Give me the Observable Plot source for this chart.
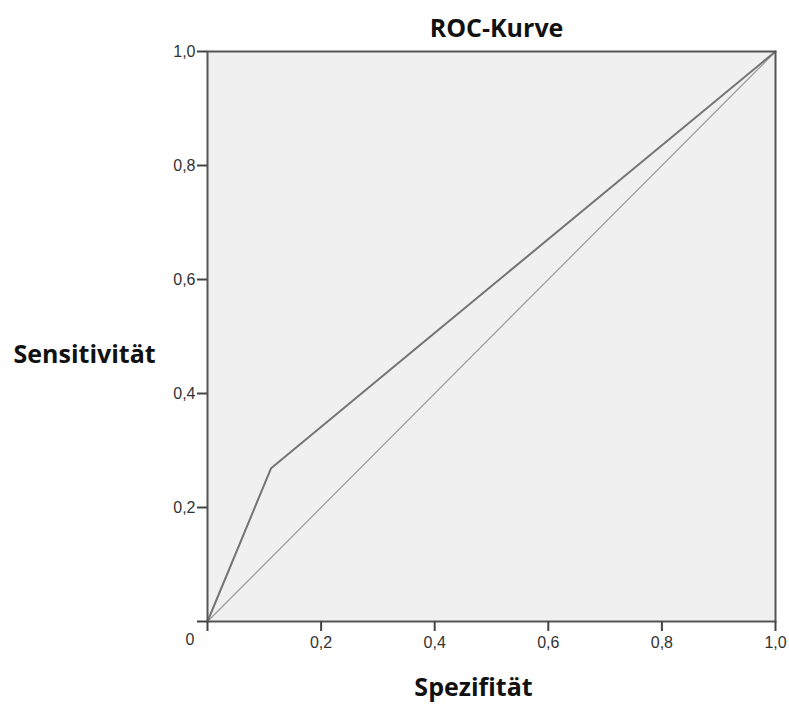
<!DOCTYPE html>
<html>
<head>
<meta charset="utf-8">
<script src="https://cdn.jsdelivr.net/npm/d3@7"></script>
<script src="https://cdn.jsdelivr.net/npm/@observablehq/plot@0.6"></script>
<style>
  html, body { margin: 0; padding: 0; background: #fff; }
</style>
</head>
<body>
<div id="chart"></div>
<script>
const title = "ROC-Kurve";
const xLabel = "Spezifität";
const yLabel = "Sensitivität";
const rocX = [0, 0.112, 0.345, 1];
const rocY = [0, 0.269, 0.461, 1];
const refX = [0, 1];
const refY = [0, 1];
const tickValues = [0, 0.2, 0.4, 0.6, 0.8, 1.0];

const roc = rocX.map((x, i) => ({x, y: rocY[i]}));
const ref = refX.map((x, i) => ({x, y: refY[i]}));
const fmt = d => d === 0 ? "" : d.toFixed(1).replace(".", ",");

const chart = Plot.plot({
  width: 789,
  height: 704,
  marginLeft: 207,
  marginRight: 14,
  marginTop: 51,
  marginBottom: 83,
  style: {fontFamily: "'Liberation Sans', Arial, sans-serif", fontSize: "16px", color: "#333", background: "#fff"},
  x: {domain: [0, 1]},
  y: {domain: [0, 1]},
  marks: [
    Plot.frame({fill: "#f0f0f0", stroke: null}),
    Plot.line(ref, {x: "x", y: "y", stroke: "#9a9a9a", strokeWidth: 1.2}),
    Plot.line(roc, {x: "x", y: "y", stroke: "#747474", strokeWidth: 2}),
    Plot.frame({stroke: "#555", strokeWidth: 2}),
    Plot.axisX({ticks: tickValues, tickFormat: fmt, tickSize: 10, tickPadding: 5, stroke: "#444", strokeWidth: 2, label: null, fontSize: 16}),
    Plot.axisY({ticks: tickValues, tickFormat: fmt, tickSize: 10, tickPadding: 2, stroke: "#444", strokeWidth: 2, label: null, fontSize: 16}),
    Plot.text(["0"], {frameAnchor: "bottom-left", textAnchor: "start", dx: -22, dy: 23, fontSize: 16, fill: "#333"}),
    Plot.text([title], {frameAnchor: "top", dx: 5, dy: -32, fontFamily: "'Open Sans', sans-serif", fontWeight: "bold", fontSize: 25, fill: "#111"}),
    Plot.text([xLabel], {frameAnchor: "bottom", dx: -18, dy: 74, fontFamily: "'Open Sans', sans-serif", fontWeight: "bold", fontSize: 25, fill: "#111"}),
    Plot.text([yLabel], {frameAnchor: "left", textAnchor: "start", dx: -194, dy: 18, fontFamily: "'Open Sans', sans-serif", fontWeight: "bold", fontSize: 25, fill: "#111"})
  ]
});
document.getElementById("chart").appendChild(chart);
</script>
</body>
</html>
